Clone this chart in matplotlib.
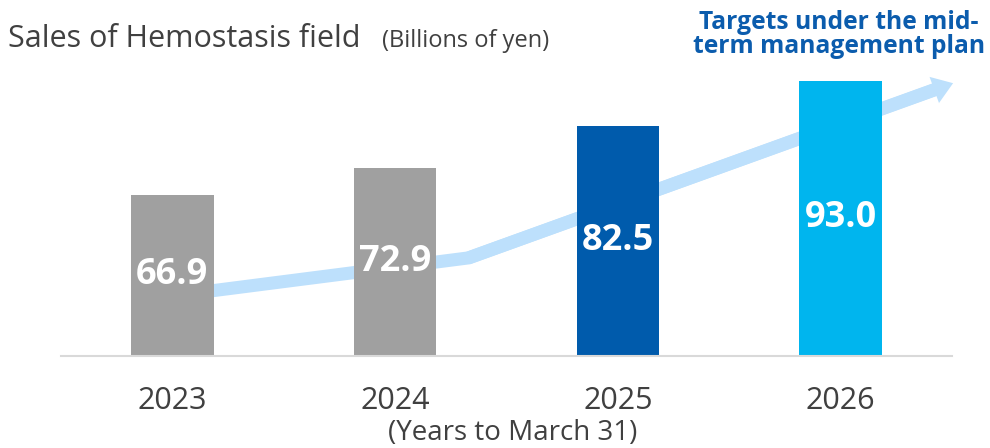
import matplotlib
matplotlib.use("Agg")
import matplotlib.pyplot as plt
import numpy as np

plt.rcParams['font.family'] = ['Open Sans', 'DejaVu Sans']

# Data
years = ["2023", "2024", "2025", "2026"]
sales = [66.9, 72.9, 82.5, 93.0]
bar_colors = ["#a0a0a0", "#a0a0a0", "#005bac", "#00b5ee"]

# trend arrow (decorative), in data units: bar index / sales axis
arrow_x = [0.0, 1.33, 3.42]
arrow_y = [43.7, 52.4, 90.9]
arrow_tip = (3.505, 92.4)

Y_MIN, Y_MAX = 30, 97.7
TEXT = "#404040"
ARROW = "#bde0fc"
H = 448

fig = plt.figure(figsize=(9.9, 4.48), dpi=100)
ax = fig.add_axes([0.0616, 0.206, 0.9, 0.66])

x = np.arange(len(years))

# arrow behind bars
ax.plot(arrow_x, arrow_y, color=ARROW, lw=9.4, solid_joinstyle='miter',
        solid_capstyle='butt', zorder=1, clip_on=False)
ax.annotate("", xy=arrow_tip, xytext=(arrow_x[1], arrow_y[1]),
            arrowprops=dict(arrowstyle="simple,head_width=1.0,head_length=0.72,tail_width=0.47",
                            color=ARROW, lw=0, shrinkA=0, shrinkB=0, mutation_scale=20),
            zorder=1, annotation_clip=False)

ax.bar(x, [s - Y_MIN for s in sales], bottom=Y_MIN, width=0.37,
       color=bar_colors, zorder=2)

for xi, s in zip(x, sales):
    ax.text(xi, (s + Y_MIN) / 2, f"{s:.1f}", ha='center', va='center',
            color='white', fontsize=26, fontweight='bold', zorder=3)

ax.set_xlim(-0.5, 3.5)
ax.set_ylim(Y_MIN, Y_MAX)
ax.set_xticks(x)
ax.set_xticklabels(years, fontsize=22, color=TEXT)
ax.tick_params(axis='x', length=0, pad=22)
ax.set_yticks([])
for side in ['top', 'right', 'left']:
    ax.spines[side].set_visible(False)
ax.spines['bottom'].set_color("#d9d9d9")
ax.spines['bottom'].set_linewidth(1.5)

fig.text(513 / 990, 1 - 440 / H, "(Years to March 31)", ha='center', va='baseline',
         fontsize=20, color=TEXT)

fig.text(8 / 990, 1 - 47 / H, "Sales of Hemostasis field", ha='left', va='baseline',
         fontsize=22, color=TEXT)
fig.text(382 / 990, 1 - 47 / H, "(Billions of yen)", ha='left', va='baseline',
         fontsize=17, color=TEXT)

fig.text(839 / 990, 1 - 29 / H, "Targets under the mid-", ha='center', va='baseline',
         fontsize=17.7, fontweight='bold', color="#0b5cad")
fig.text(839 / 990, 1 - 53 / H, "term management plan", ha='center', va='baseline',
         fontsize=17.7, fontweight='bold', color="#0b5cad")

fig.savefig("out.png", dpi=100)
